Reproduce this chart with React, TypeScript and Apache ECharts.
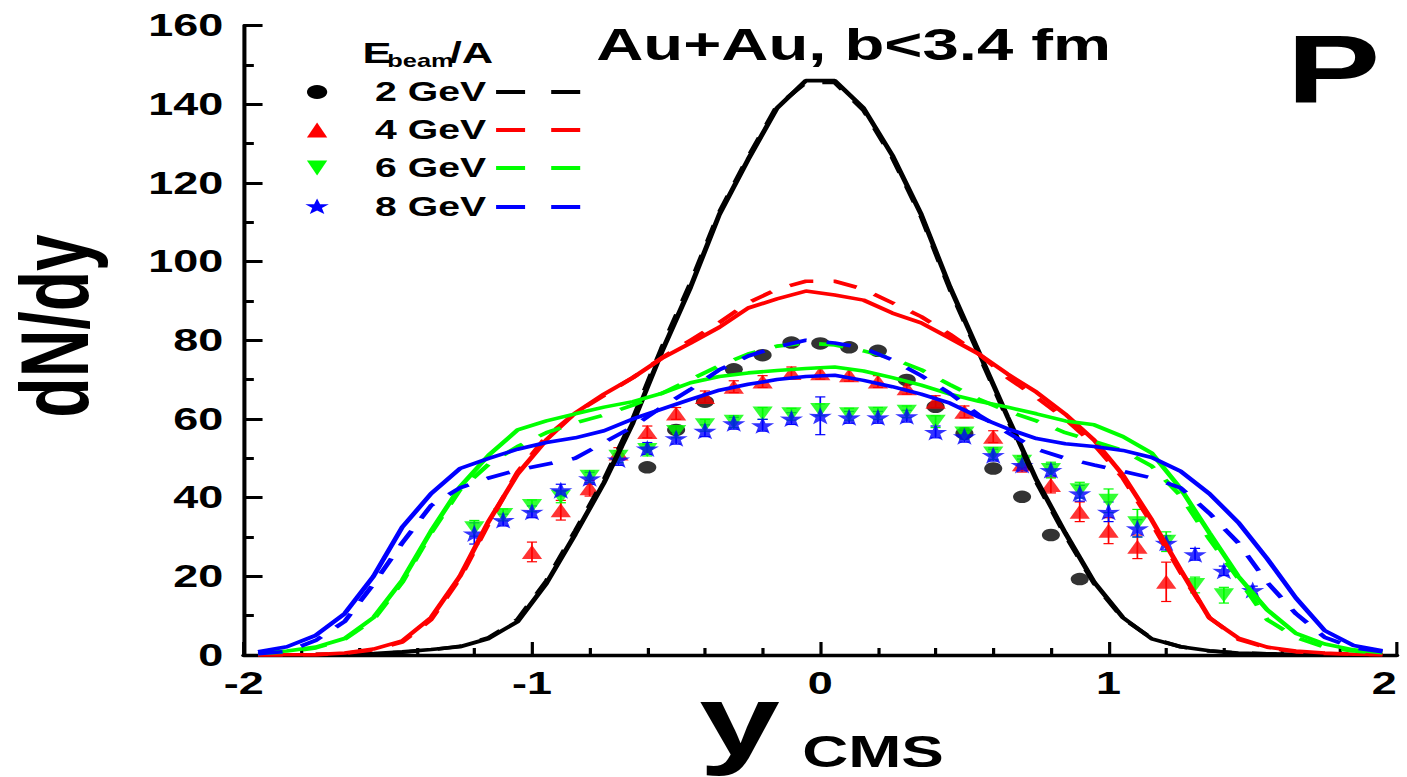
import React, { useEffect, useRef } from "react";
import * as echarts from "echarts";

// The reference image is horizontally stretched; draw at a narrower width and stretch with CSS.
const PRE_W = 970;
const S = 1407 / PRE_W;
const FONT = "'Liberation Sans', Arial, sans-serif";

// Model curves sampled at these rapidities
const xCurve = [-1.95, -1.85, -1.75, -1.65, -1.55, -1.45, -1.35, -1.25, -1.15, -1.05, -0.95, -0.85, -0.75, -0.65, -0.55, -0.45, -0.35, -0.25, -0.15, -0.05, 0.05, 0.15, 0.25, 0.35, 0.45, 0.55, 0.65, 0.75, 0.85, 0.95, 1.05, 1.15, 1.25, 1.35, 1.45, 1.55, 1.65, 1.75, 1.85, 1.95];

const black2Solid = [0, 0.05, 0.1, 0.2, 0.4, 0.8, 1.4, 2.1, 4.2, 8.5, 18.2, 30.7, 43.8, 59, 77, 93.5, 112, 126, 139, 146, 146, 139, 127, 112, 93.5, 77, 60.5, 44.5, 31, 18.5, 9.5, 4.1, 2.1, 1.1, 0.5, 0.3, 0.2, 0.1, 0.05, 0];
const black2Dashed = [0, 0.05, 0.1, 0.2, 0.4, 0.7, 1.3, 2.2, 4.4, 9, 18.8, 31.5, 44.5, 60, 78, 94.5, 112.5, 126.5, 139.5, 145.5, 145.5, 138.5, 126.5, 111.5, 93, 76.5, 60, 44, 30.5, 18.2, 9.3, 4.2, 2.1, 1, 0.5, 0.3, 0.2, 0.1, 0.05, 0];
const red4Solid = [0, 0.05, 0.1, 0.5, 1.5, 3.6, 9.5, 20, 34, 46, 54.7, 61.5, 66.3, 70.5, 75.4, 79.3, 83.3, 88.2, 90.5, 92.5, 91.5, 90.2, 86.9, 84.4, 80.5, 76.5, 71.4, 66.8, 61.2, 54.6, 45.7, 34.3, 21.6, 9.4, 4.3, 2, 1, 0.5, 0.2, 0.1];
const red4Dashed = [0, 0.05, 0.1, 0.4, 1.3, 3.3, 9, 19.5, 33.5, 46.5, 55.5, 61.5, 66, 70.5, 75.5, 80, 84.5, 89.5, 93, 95, 95, 93, 89.5, 86, 81.5, 76.5, 70.5, 65.5, 60, 53.5, 45, 33.5, 21, 9.5, 4, 1.8, 0.8, 0.4, 0.2, 0.1];
const green6Solid = [0.6, 1, 2, 4.2, 9.5, 19, 31.5, 42.7, 50.8, 57.2, 59.5, 61.3, 63, 64.4, 66.5, 69.2, 70.8, 71.7, 72.3, 72.8, 73.2, 72.2, 70.5, 68.6, 66.3, 64.5, 63, 61.3, 59.5, 58.5, 55.5, 51.3, 42.3, 31, 20, 11.5, 5.5, 2.8, 1.3, 0.6];
const green6Dashed = [0.4, 0.8, 1.8, 4, 9, 18.5, 31, 42, 48.5, 53, 56.5, 59, 61, 63.5, 66.5, 70, 73.5, 76.5, 78.5, 79.3, 78.8, 77.3, 75.4, 72.5, 68.7, 65, 62, 59.5, 56.5, 54.3, 52, 48, 40.5, 29.5, 19.5, 9, 4.5, 2, 1, 0.4];
const blue8Solid = [0.8, 2.1, 5, 10.5, 20, 32.5, 41, 47.4, 50, 52.3, 54, 55.2, 57, 60, 62.5, 65, 67.3, 68.8, 70, 70.8, 71.1, 69.8, 68.2, 66.3, 64, 60.5, 57.5, 55, 53.7, 53, 52, 50.2, 46.7, 41, 33.7, 24.5, 14.5, 6.2, 2.4, 1.1];
const blue8Dashed = [0.3, 0.9, 3.7, 8.5, 18, 28.5, 38, 42.5, 45, 47, 48.5, 50, 54, 58, 63, 67.5, 72.5, 76, 78.3, 80, 79.3, 78, 75, 71, 66.5, 61, 56.5, 52.3, 50, 48.3, 46.7, 45, 42.5, 36, 28.5, 18.5, 10.5, 4.5, 1.8, 0.8];

// Measured points
const x2 = [-0.6, -0.5, -0.4, -0.3, -0.2, -0.1, 0, 0.1, 0.2, 0.3, 0.4, 0.5, 0.6, 0.7, 0.8, 0.9];
const y2 = [47.7, 57.2, 64.4, 72.6, 76.2, 79.4, 79.2, 78.2, 77.3, 69.9, 63.1, 56.3, 47.4, 40.2, 30.5, 19.3];

const x4 = [-1.0, -0.9, -0.8, -0.7, -0.6, -0.5, -0.4, -0.3, -0.2, -0.1, 0, 0.1, 0.2, 0.3, 0.4, 0.5, 0.6, 0.7, 0.8, 0.9, 1.0, 1.1, 1.2];
const y4 = [26.2, 36.8, 42.4, 51.2, 56.7, 61.4, 65.6, 68.2, 69.5, 71.7, 71.6, 71.1, 69.5, 67.8, 64.4, 61.8, 55.5, 48.5, 43.2, 36.4, 31.6, 27.5, 18.6];
const e4 = [2.5, 2.5, 2, 1.5, 1.5, 1.5, 1.5, 1.5, 1.5, 1.5, 1.5, 1.5, 1.5, 1.5, 1.5, 1.5, 1.5, 2, 2, 2.5, 3.3, 3, 5];

const x6 = [-1.2, -1.1, -1.0, -0.9, -0.8, -0.7, -0.6, -0.5, -0.4, -0.3, -0.2, -0.1, 0, 0.1, 0.2, 0.3, 0.4, 0.5, 0.6, 0.7, 0.8, 0.9, 1.0, 1.1, 1.2, 1.3, 1.4];
const y6 = [32.2, 35.6, 37.9, 40.2, 45.3, 50.4, 52.1, 56.7, 58.4, 59.3, 61.4, 61.2, 62.3, 61.2, 61.4, 61.8, 59.3, 56.3, 51.2, 49.1, 47, 41.9, 39.2, 33.5, 28.8, 17.8, 15.2];
const e6 = [2, 1.5, 1.5, 1.5, 1.5, 1.5, 1.5, 1.5, 1.5, 1.5, 1.5, 1.5, 1.5, 1.5, 1.5, 1.5, 1.5, 1.5, 1.5, 1.5, 2, 2, 3, 3.5, 2.5, 2, 2];

const x8 = [-1.2, -1.1, -1.0, -0.9, -0.8, -0.7, -0.6, -0.5, -0.4, -0.3, -0.2, -0.1, 0, 0.1, 0.2, 0.3, 0.4, 0.5, 0.6, 0.7, 0.8, 0.9, 1.0, 1.1, 1.2, 1.3, 1.4, 1.5];
const y8 = [30.9, 34.3, 36.4, 41.9, 44.9, 49.7, 52.5, 55.1, 57, 58.9, 58.4, 60.1, 60.8, 60.4, 60.4, 60.7, 56.7, 55.6, 50.8, 48.3, 47, 41.1, 36.4, 32.2, 28.5, 25.6, 21.4, 16.5];
const e8 = [2.7, 1.5, 1.5, 1.5, 1.5, 1.5, 1.5, 1.5, 1.5, 1.5, 1.5, 1.5, 4.8, 1.5, 1.5, 1.5, 1.5, 1.5, 1.5, 1.5, 1.5, 2, 2.5, 2.2, 1.8, 1.5, 1.2, 1];

const xTickMin = -2;
const xTickMax = 2;
const yTickMin = 0;
const yTickMax = 160;

const legendLabels = ["2 GeV", "4 GeV", "6 GeV", "8 GeV"];
const colors = ["#000000", "#ff0000", "#00ff00", "#0000ff"];

const STAR = "path://M50,0 L61.8,35.1 L97.6,34.5 L69.1,56.7 L79.4,90.5 L50,70 L20.6,90.5 L30.9,56.7 L2.4,34.5 L38.2,35.1 Z";

const pairs = (xs: number[], ys: number[]) => xs.map((x, i) => [x, ys[i]]);
const errPairs = (xs: number[], ys: number[], es: number[]) => xs.map((x, i) => [x, ys[i] - es[i], ys[i] + es[i]]);

function errorSeries(data: number[][], color: string) {
  return {
    type: "custom",
    z: 2,
    silent: true,
    data,
    encode: { x: 0, y: [1, 2] },
    renderItem: (params: any, api: any) => {
      const x = api.value(0);
      const top = api.coord([x, api.value(2)]);
      const bot = api.coord([x, api.value(1)]);
      const w = 3.5;
      const st = { stroke: color, lineWidth: 1.2 };
      return {
        type: "group",
        children: [
          { type: "line", shape: { x1: top[0], y1: top[1], x2: bot[0], y2: bot[1] }, style: st },
          { type: "line", shape: { x1: top[0] - w, y1: top[1], x2: top[0] + w, y2: top[1] }, style: st },
          { type: "line", shape: { x1: bot[0] - w, y1: bot[1], x2: bot[0] + w, y2: bot[1] }, style: st },
        ],
      };
    },
  };
}

function lineSeries(ys: number[], color: string, dashed: boolean) {
  return {
    type: "line",
    z: 4,
    data: pairs(xCurve, ys),
    symbol: "none",
    showSymbol: false,
    silent: true,
    lineStyle: { color, width: 3.6, type: dashed ? [17, 14] : "solid" },
  };
}

function starPoints(cx: number, cy: number, R: number, r: number) {
  const pts: number[][] = [];
  for (let k = 0; k < 10; k++) {
    const a = -Math.PI / 2 + (k * Math.PI) / 5;
    const rr = k % 2 === 0 ? R : r;
    pts.push([cx + rr * Math.cos(a), cy + rr * Math.sin(a)]);
  }
  return pts;
}

export default function App() {
  const ref = useRef<HTMLDivElement>(null);

  useEffect(() => {
    if (!ref.current) return;
    const chart = echarts.init(ref.current, undefined, { renderer: "svg" });

    const legendRows = [92, 130, 168, 207];
    const mX = 218.6;
    const textX = 258.6;
    const legendGraphics: any[] = [];
    legendRows.forEach((cy, i) => {
      const c = colors[i];
      if (i === 0) legendGraphics.push({ type: "circle", shape: { cx: mX, cy, r: 7 }, style: { fill: c } });
      if (i === 1) legendGraphics.push({ type: "polygon", shape: { points: [[mX - 7, cy + 7.5], [mX + 7, cy + 7.5], [mX, cy - 7.5]] }, style: { fill: c } });
      if (i === 2) legendGraphics.push({ type: "polygon", shape: { points: [[mX - 7, cy - 7.5], [mX + 7, cy - 7.5], [mX, cy + 7.5]] }, style: { fill: c } });
      if (i === 3) legendGraphics.push({ type: "polygon", shape: { points: starPoints(mX, cy, 8.5, 3.5) }, style: { fill: c } });
      legendGraphics.push({
        type: "text",
        style: { text: legendLabels[i], x: textX, y: cy, fontSize: 27, fontWeight: "bold", fontFamily: FONT, fill: "#000", align: "left", verticalAlign: "middle" },
      });
      legendGraphics.push({ type: "line", shape: { x1: 342, y1: cy, x2: 362, y2: cy }, style: { stroke: c, lineWidth: 4 } });
      legendGraphics.push({ type: "line", shape: { x1: 380, y1: cy, x2: 400, y2: cy }, style: { stroke: c, lineWidth: 4 } });
    });

    const option: any = {
      animation: false,
      backgroundColor: "#ffffff",
      grid: { left: 168, right: 7, top: 25.5, bottom: 122, containLabel: false, outerBoundsMode: "none" },
      xAxis: {
        type: "value",
        min: xTickMin,
        max: xTickMax,
        interval: 1,
        axisLine: { show: true, onZero: false, lineStyle: { color: "#000", width: 3.4 } },
        axisTick: { show: true, inside: true, length: 13, lineStyle: { color: "#000", width: 2.2 } },
        minorTick: { show: true, splitNumber: 5, length: 7, lineStyle: { color: "#000", width: 2.2 } },
        splitLine: { show: false },
        minorSplitLine: { show: false },
        axisLabel: { color: "#000", fontSize: 31, fontWeight: "bold", fontFamily: FONT, margin: 13, alignMaxLabel: "right" },
      },
      yAxis: {
        type: "value",
        min: yTickMin,
        max: yTickMax,
        interval: 20,
        axisLine: { show: true, onZero: false, lineStyle: { color: "#000", width: 2.8 } },
        axisTick: { show: true, inside: true, length: 13, lineStyle: { color: "#000", width: 3 } },
        minorTick: { show: true, splitNumber: 2, length: 7, lineStyle: { color: "#000", width: 3 } },
        splitLine: { show: false },
        minorSplitLine: { show: false },
        axisLabel: { color: "#000", fontSize: 31, fontWeight: "bold", fontFamily: FONT, margin: 14 },
      },
      series: [
        errorSeries(errPairs(x4, y4, e4), colors[1]),
        errorSeries(errPairs(x6, y6, e6), colors[2]),
        errorSeries(errPairs(x8, y8, e8), colors[3]),
        { type: "scatter", z: 3, silent: true, data: pairs(x2, y2), symbol: "circle", symbolSize: 12.5, itemStyle: { color: colors[0] } },
        { type: "scatter", z: 3, silent: true, data: pairs(x4, y4), symbol: "triangle", symbolSize: [14, 14], itemStyle: { color: colors[1] } },
        { type: "scatter", z: 3, silent: true, data: pairs(x6, y6), symbol: "triangle", symbolRotate: 180, symbolSize: [14, 14], itemStyle: { color: colors[2] } },
        { type: "scatter", z: 3, silent: true, data: pairs(x8, y8), symbol: STAR, symbolSize: [16, 17], itemStyle: { color: colors[3] } },
        lineSeries(black2Solid, colors[0], false),
        lineSeries(black2Dashed, colors[0], true),
        lineSeries(red4Solid, colors[1], false),
        lineSeries(red4Dashed, colors[1], true),
        lineSeries(green6Solid, colors[2], false),
        lineSeries(green6Dashed, colors[2], true),
        lineSeries(blue8Solid, colors[3], false),
        lineSeries(blue8Dashed, colors[3], true),
      ],
      graphic: {
        elements: [
          { type: "text", style: { text: "Au+Au, b<3.4 fm", x: 411, y: 44, fontSize: 45, fontWeight: "bold", fontFamily: FONT, fill: "#000", align: "left", verticalAlign: "middle" } },
          { type: "text", style: { text: "P", x: 887, y: 69, fontSize: 97, fontWeight: "bold", fontFamily: FONT, fill: "#000", align: "left", verticalAlign: "middle" } },
          { type: "text", style: { text: "E", x: 250, y: 52.5, fontSize: 30, fontWeight: "bold", fontFamily: FONT, fill: "#000", align: "left", verticalAlign: "middle" } },
          { type: "text", style: { text: "beam", x: 267, y: 61, fontSize: 17.5, fontWeight: "bold", fontFamily: FONT, fill: "#000", align: "left", verticalAlign: "middle" } },
          { type: "text", style: { text: "/A", x: 310, y: 52.5, fontSize: 30, fontWeight: "bold", fontFamily: FONT, fill: "#000", align: "left", verticalAlign: "middle" } },
          { type: "text", x: 38, y: 326, rotation: Math.PI / 2, style: { text: "dN/dy", x: 0, y: 0, fontSize: 66, fontWeight: "bold", fontFamily: FONT, fill: "#000", align: "center", verticalAlign: "middle" } },
          { type: "text", style: { text: "y", x: 482, y: 720, fontSize: 100, fontWeight: "bold", fontFamily: FONT, fill: "#000", align: "left", verticalAlign: "middle" } },
          { type: "text", style: { text: "CMS", x: 553, y: 752, fontSize: 44, fontWeight: "bold", fontFamily: FONT, fill: "#000", align: "left", verticalAlign: "middle" } },
          ...legendGraphics,
        ],
      },
    };

    chart.setOption(option);
    return () => {
      chart.dispose();
    };
  }, []);

  return (
    <div
      ref={ref}
      style={{
        position: "fixed",
        left: 0,
        top: 0,
        width: PRE_W + "px",
        height: "777px",
        transform: `scaleX(${S})`,
        transformOrigin: "0 0",
        background: "#fff",
      }}
    />
  );
}
